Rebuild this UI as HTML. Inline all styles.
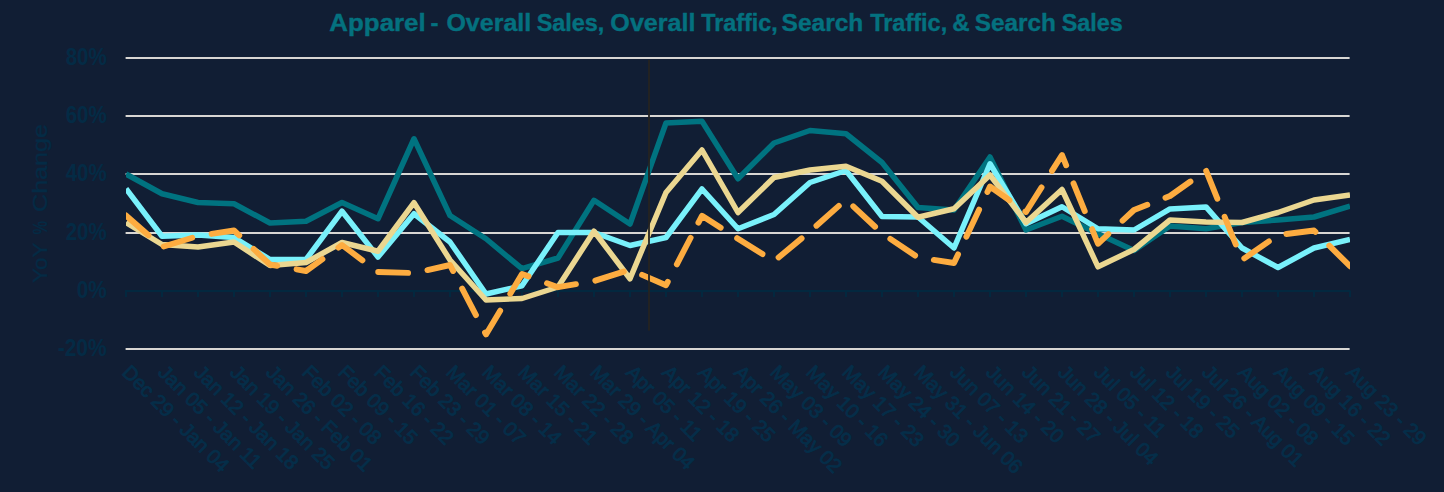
<!DOCTYPE html>
<html><head><meta charset="utf-8"><title>Apparel chart</title>
<style>
html,body{margin:0;padding:0;background:#111e34;}
body{width:1444px;height:492px;overflow:hidden;font-family:"Liberation Sans",sans-serif;}
svg{display:block}
text{font-family:"Liberation Sans",sans-serif;}
.ln{fill:none;stroke-width:5.5;stroke-linejoin:round;stroke-linecap:butt}
.yl{font-size:24.3px;font-weight:bold;fill:#042b45;text-anchor:end}
.xl{font-size:20px;fill:#052e49;stroke:#052e49;stroke-width:0.8px;stroke-linejoin:round}
</style></head><body>
<svg width="1444" height="492" viewBox="0 0 1444 492">
<rect width="1444" height="492" fill="#111e34"/>

<g font-size="24" font-weight="bold" fill="#04717f" stroke="#04717f" stroke-width="0.4">
<text x="329.38" y="30.6" textLength="96.33" lengthAdjust="spacingAndGlyphs">Apparel</text>
<text x="430.46" y="30.6" textLength="7.95" lengthAdjust="spacingAndGlyphs">-</text>
<text x="446.4" y="30.6" textLength="84.81" lengthAdjust="spacingAndGlyphs">Overall</text>
<text x="536.65" y="30.6" textLength="67.69" lengthAdjust="spacingAndGlyphs">Sales,</text>
<text x="610.38" y="30.6" textLength="85.07" lengthAdjust="spacingAndGlyphs">Overall</text>
<text x="701.26" y="30.6" textLength="76.38" lengthAdjust="spacingAndGlyphs">Traffic,</text>
<text x="781.64" y="30.6" textLength="81.7" lengthAdjust="spacingAndGlyphs">Search</text>
<text x="870.16" y="30.6" textLength="77.04" lengthAdjust="spacingAndGlyphs">Traffic,</text>
<text x="952.26" y="30.6" textLength="17.37" lengthAdjust="spacingAndGlyphs">&amp;</text>
<text x="974.66" y="30.6" textLength="81.16" lengthAdjust="spacingAndGlyphs">Search</text>
<text x="1061.81" y="30.6" textLength="60.96" lengthAdjust="spacingAndGlyphs">Sales</text>
</g>

<rect x="125.6" y="57" width="1224" height="2" fill="#d8d6d3"/>
<rect x="125.6" y="115" width="1224" height="2" fill="#d8d6d3"/>
<rect x="125.6" y="173" width="1224" height="2" fill="#d8d6d3"/>
<rect x="125.6" y="232" width="1224" height="2" fill="#d8d6d3"/>
<rect x="125.6" y="348" width="1224" height="2" fill="#d8d6d3"/>
<rect x="125" y="290" width="1225.5" height="2" fill="#03283f"/>
<rect x="125.00" y="291.00" width="2" height="6" fill="#03283f"/>
<rect x="161.00" y="291.00" width="2" height="6" fill="#03283f"/>
<rect x="197.00" y="291.00" width="2" height="6" fill="#03283f"/>
<rect x="233.00" y="291.00" width="2" height="6" fill="#03283f"/>
<rect x="269.00" y="291.00" width="2" height="6" fill="#03283f"/>
<rect x="305.00" y="291.00" width="2" height="6" fill="#03283f"/>
<rect x="341.00" y="291.00" width="2" height="6" fill="#03283f"/>
<rect x="377.00" y="291.00" width="2" height="6" fill="#03283f"/>
<rect x="413.00" y="291.00" width="2" height="6" fill="#03283f"/>
<rect x="449.00" y="291.00" width="2" height="6" fill="#03283f"/>
<rect x="485.00" y="291.00" width="2" height="6" fill="#03283f"/>
<rect x="521.00" y="291.00" width="2" height="6" fill="#03283f"/>
<rect x="557.00" y="291.00" width="2" height="6" fill="#03283f"/>
<rect x="593.00" y="291.00" width="2" height="6" fill="#03283f"/>
<rect x="629.00" y="291.00" width="2" height="6" fill="#03283f"/>
<rect x="665.00" y="291.00" width="2" height="6" fill="#03283f"/>
<rect x="701.00" y="291.00" width="2" height="6" fill="#03283f"/>
<rect x="737.00" y="291.00" width="2" height="6" fill="#03283f"/>
<rect x="773.00" y="291.00" width="2" height="6" fill="#03283f"/>
<rect x="809.00" y="291.00" width="2" height="6" fill="#03283f"/>
<rect x="845.00" y="291.00" width="2" height="6" fill="#03283f"/>
<rect x="881.00" y="291.00" width="2" height="6" fill="#03283f"/>
<rect x="917.00" y="291.00" width="2" height="6" fill="#03283f"/>
<rect x="953.00" y="291.00" width="2" height="6" fill="#03283f"/>
<rect x="989.00" y="291.00" width="2" height="6" fill="#03283f"/>
<rect x="1025.00" y="291.00" width="2" height="6" fill="#03283f"/>
<rect x="1061.00" y="291.00" width="2" height="6" fill="#03283f"/>
<rect x="1097.00" y="291.00" width="2" height="6" fill="#03283f"/>
<rect x="1133.00" y="291.00" width="2" height="6" fill="#03283f"/>
<rect x="1169.00" y="291.00" width="2" height="6" fill="#03283f"/>
<rect x="1205.00" y="291.00" width="2" height="6" fill="#03283f"/>
<rect x="1241.00" y="291.00" width="2" height="6" fill="#03283f"/>
<rect x="1277.00" y="291.00" width="2" height="6" fill="#03283f"/>
<rect x="1313.00" y="291.00" width="2" height="6" fill="#03283f"/>
<rect x="1349.00" y="291.00" width="2" height="6" fill="#03283f"/>
<text class="yl" x="106.7" y="65.3" textLength="41" lengthAdjust="spacingAndGlyphs">80%</text>
<text class="yl" x="106.7" y="123.3" textLength="41" lengthAdjust="spacingAndGlyphs">60%</text>
<text class="yl" x="106.7" y="181.3" textLength="41" lengthAdjust="spacingAndGlyphs">40%</text>
<text class="yl" x="106.7" y="240.3" textLength="41" lengthAdjust="spacingAndGlyphs">20%</text>
<text class="yl" x="106.7" y="298.3" textLength="30" lengthAdjust="spacingAndGlyphs">0%</text>
<text class="yl" x="106.7" y="356.3" textLength="49" lengthAdjust="spacingAndGlyphs">-20%</text>
<g transform="translate(47,0) rotate(-90)" font-size="20.5" fill="#042b45" stroke="#042b45" stroke-width="0.3"><text x="-283" textLength="40.5" lengthAdjust="spacingAndGlyphs">YoY</text><text x="-234.5" textLength="13.5" lengthAdjust="spacingAndGlyphs">%</text><text x="-212" textLength="88" lengthAdjust="spacingAndGlyphs">Change</text></g>
<text class="xl" transform="translate(121.0,373.5) rotate(45)">Dec 29 - Jan 04</text>
<text class="xl" transform="translate(157.0,373.5) rotate(45)">Jan 05 - Jan 11</text>
<text class="xl" transform="translate(193.0,373.5) rotate(45)">Jan 12 - Jan 18</text>
<text class="xl" transform="translate(229.0,373.5) rotate(45)">Jan 19 - Jan 25</text>
<text class="xl" transform="translate(265.0,373.5) rotate(45)">Jan 26 - Feb 01</text>
<text class="xl" transform="translate(301.0,373.5) rotate(45)">Feb 02 - 08</text>
<text class="xl" transform="translate(337.0,373.5) rotate(45)">Feb 09 - 15</text>
<text class="xl" transform="translate(373.0,373.5) rotate(45)">Feb 16 - 22</text>
<text class="xl" transform="translate(409.0,373.5) rotate(45)">Feb 23 - 29</text>
<text class="xl" transform="translate(445.0,373.5) rotate(45)">Mar 01 - 07</text>
<text class="xl" transform="translate(481.0,373.5) rotate(45)">Mar 08 - 14</text>
<text class="xl" transform="translate(517.0,373.5) rotate(45)">Mar 15 - 21</text>
<text class="xl" transform="translate(553.0,373.5) rotate(45)">Mar 22 - 28</text>
<text class="xl" transform="translate(589.0,373.5) rotate(45)">Mar 29 - Apr 04</text>
<text class="xl" transform="translate(625.0,373.5) rotate(45)">Apr 05 - 11</text>
<text class="xl" transform="translate(661.0,373.5) rotate(45)">Apr 12 - 18</text>
<text class="xl" transform="translate(697.0,373.5) rotate(45)">Apr 19 - 25</text>
<text class="xl" transform="translate(733.0,373.5) rotate(45)">Apr 26 - May 02</text>
<text class="xl" transform="translate(769.0,373.5) rotate(45)">May 03 - 09</text>
<text class="xl" transform="translate(805.0,373.5) rotate(45)">May 10 - 16</text>
<text class="xl" transform="translate(841.0,373.5) rotate(45)">May 17 - 23</text>
<text class="xl" transform="translate(877.0,373.5) rotate(45)">May 24 - 30</text>
<text class="xl" transform="translate(913.0,373.5) rotate(45)">May 31 - Jun 06</text>
<text class="xl" transform="translate(949.0,373.5) rotate(45)">Jun 07 - 13</text>
<text class="xl" transform="translate(985.0,373.5) rotate(45)">Jun 14 - 20</text>
<text class="xl" transform="translate(1021.0,373.5) rotate(45)">Jun 21 - 27</text>
<text class="xl" transform="translate(1057.0,373.5) rotate(45)">Jun 28 - Jul 04</text>
<text class="xl" transform="translate(1093.0,373.5) rotate(45)">Jul 05 - 11</text>
<text class="xl" transform="translate(1129.0,373.5) rotate(45)">Jul 12 - 18</text>
<text class="xl" transform="translate(1165.0,373.5) rotate(45)">Jul 19 - 25</text>
<text class="xl" transform="translate(1201.0,373.5) rotate(45)">Jul 26 - Aug 01</text>
<text class="xl" transform="translate(1237.0,373.5) rotate(45)">Aug 02 - 08</text>
<text class="xl" transform="translate(1273.0,373.5) rotate(45)">Aug 09 - 15</text>
<text class="xl" transform="translate(1309.0,373.5) rotate(45)">Aug 16 - 22</text>
<text class="xl" transform="translate(1345.0,373.5) rotate(45)">Aug 23 - 29</text>
<clipPath id="c"><rect x="126" y="50" width="1224" height="305"/></clipPath><g clip-path="url(#c)">
<polyline class="ln" stroke="#007380" points="126.0,174.00 162.0,193.75 198.0,202.50 234.0,203.75 270.0,223.00 306.0,221.25 342.0,202.50 378.0,218.75 414.0,138.75 450.0,215.50 486.0,238.75 522.0,268.70 558.0,258.00 594.0,200.30 630.0,224.00 666.0,123.00 702.0,121.25 738.0,178.75 774.0,143.00 810.0,130.50 846.0,133.75 882.0,162.50 918.0,207.50 954.0,210.00 990.0,157.00 1026.0,230.00 1062.0,216.25 1098.0,233.75 1134.0,250.50 1170.0,226.00 1206.0,228.75 1242.0,222.50 1278.0,220.00 1314.0,217.00 1350.0,206.25"/>
<polyline class="ln" stroke="#79f1fb" points="126.0,188.75 162.0,236.25 198.0,235.00 234.0,237.50 270.0,259.50 306.0,259.50 342.0,211.25 378.0,257.00 414.0,213.75 450.0,242.00 486.0,294.00 522.0,285.80 558.0,232.50 594.0,232.50 630.0,245.50 666.0,237.50 702.0,189.00 738.0,228.75 774.0,214.50 810.0,182.50 846.0,170.50 882.0,216.50 918.0,217.00 954.0,248.00 990.0,163.75 1026.0,223.75 1062.0,206.75 1098.0,228.75 1134.0,230.00 1170.0,208.90 1206.0,206.90 1242.0,248.00 1278.0,267.50 1314.0,248.00 1350.0,239.50"/>
<polyline class="ln" stroke="#ebd791" points="126.0,222.50 162.0,244.50 198.0,247.00 234.0,242.00 270.0,265.50 306.0,262.50 342.0,242.50 378.0,251.25 414.0,202.70 450.0,260.00 486.0,300.00 522.0,298.50 558.0,287.00 594.0,231.25 630.0,278.75 666.0,192.50 702.0,150.00 738.0,212.50 774.0,177.50 810.0,170.00 846.0,166.25 882.0,181.25 918.0,217.25 954.0,208.75 990.0,175.00 1026.0,222.50 1062.0,189.50 1098.0,266.80 1134.0,249.50 1170.0,220.00 1206.0,222.00 1242.0,222.50 1278.0,212.50 1314.0,200.00 1350.0,195.00"/>
<polyline class="ln" stroke="#fdac40" style="stroke-linecap:round;stroke-width:5.9" stroke-dasharray="29.9 19.7" points="126.00,215.50 162.00,247.00 198.00,236.00 234.00,230.50 270.00,264.50 306.00,271.00 342.00,245.00 378.00,272.00 414.00,273.00 450.00,265.00 486.00,334.50 522.00,274.00 558.00,287.20 594.00,281.10 630.00,269.60 666.00,285.20 693.95,231.33"/>
<polyline class="ln" stroke="#fdac40" style="stroke-linecap:round;stroke-width:5.9" stroke-dasharray="29.9 19.52" stroke-dashoffset="39.66" points="693.95,231.33 702.00,215.80 738.00,238.75 774.00,261.25 810.00,231.40 846.00,199.50 882.00,233.25 918.00,257.50 954.00,263.00 990.00,186.50 1026.00,212.00 1062.00,155.00 1098.00,243.75 1134.00,210.00 1170.00,196.00 1206.00,170.50 1242.00,260.00 1278.00,235.00 1314.00,230.50 1350.00,266.25"/>
</g>
<rect x="648.1" y="60" width="1.8" height="270.6" fill="#252321"/>
</svg></body></html>
